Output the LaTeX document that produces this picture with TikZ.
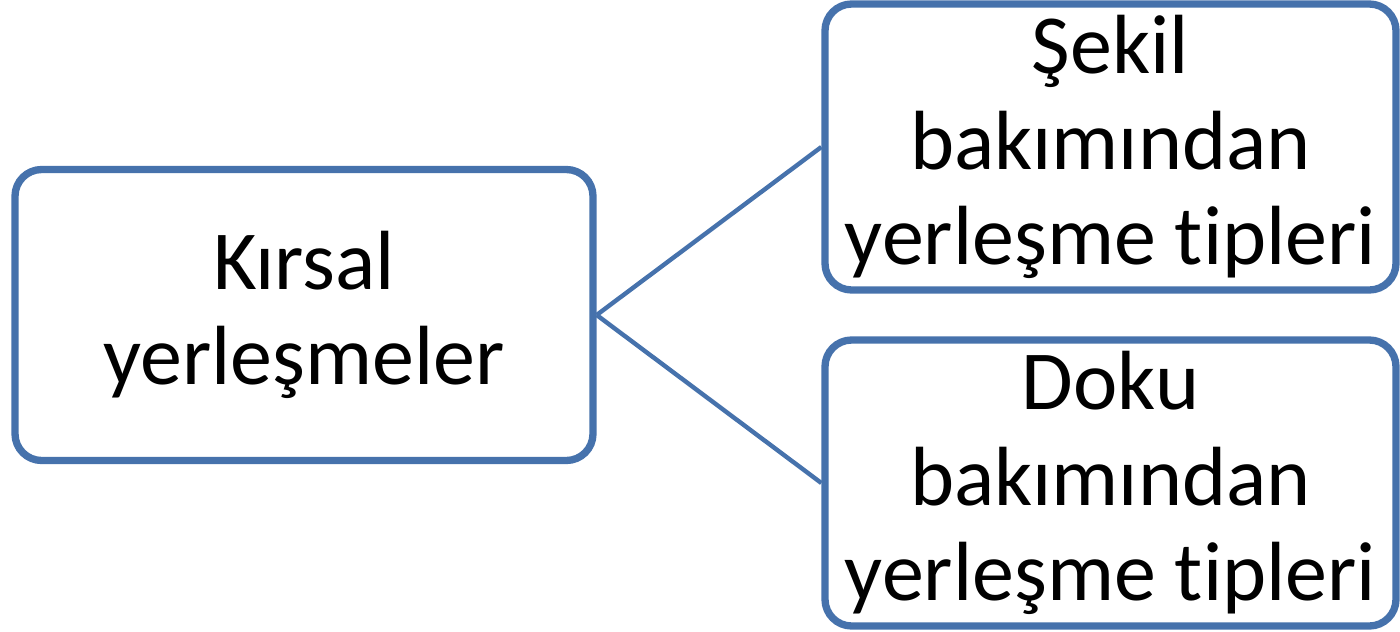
\documentclass[tikz,border=0pt]{standalone}
\usepackage{fontspec}
\setmainfont{Carlito}[Ligatures=NoCommon]
\definecolor{boxblue}{RGB}{70,114,172}
\begin{document}
\begin{tikzpicture}[x=0.75pt,y=-0.75pt,
  box/.style={draw=boxblue,line width=5.5pt,rounded corners=20pt,fill=white,
    align=center,inner sep=0pt,font=\fontsize{63}{71.5}\selectfont},
  link/.style={draw=boxblue,line width=3.3pt}]
\useasboundingbox (0,0) rectangle (1400,632);
\node[box,minimum width=578*0.75pt,minimum height=291*0.75pt] (k) at (304,315) {Kırsal\\yerleşmeler};
\node[box,minimum width=571*0.75pt,minimum height=286*0.75pt] (s) at (1110.5,147) {Şekil\\bakımından\\yerleşme tipleri};
\node[box,minimum width=571*0.75pt,minimum height=286*0.75pt] (d) at (1110.5,483) {Doku\\bakımından\\yerleşme tipleri};
\draw[link] (k.east) -- (s.west);
\draw[link] (k.east) -- (d.west);
\end{tikzpicture}
\end{document}
